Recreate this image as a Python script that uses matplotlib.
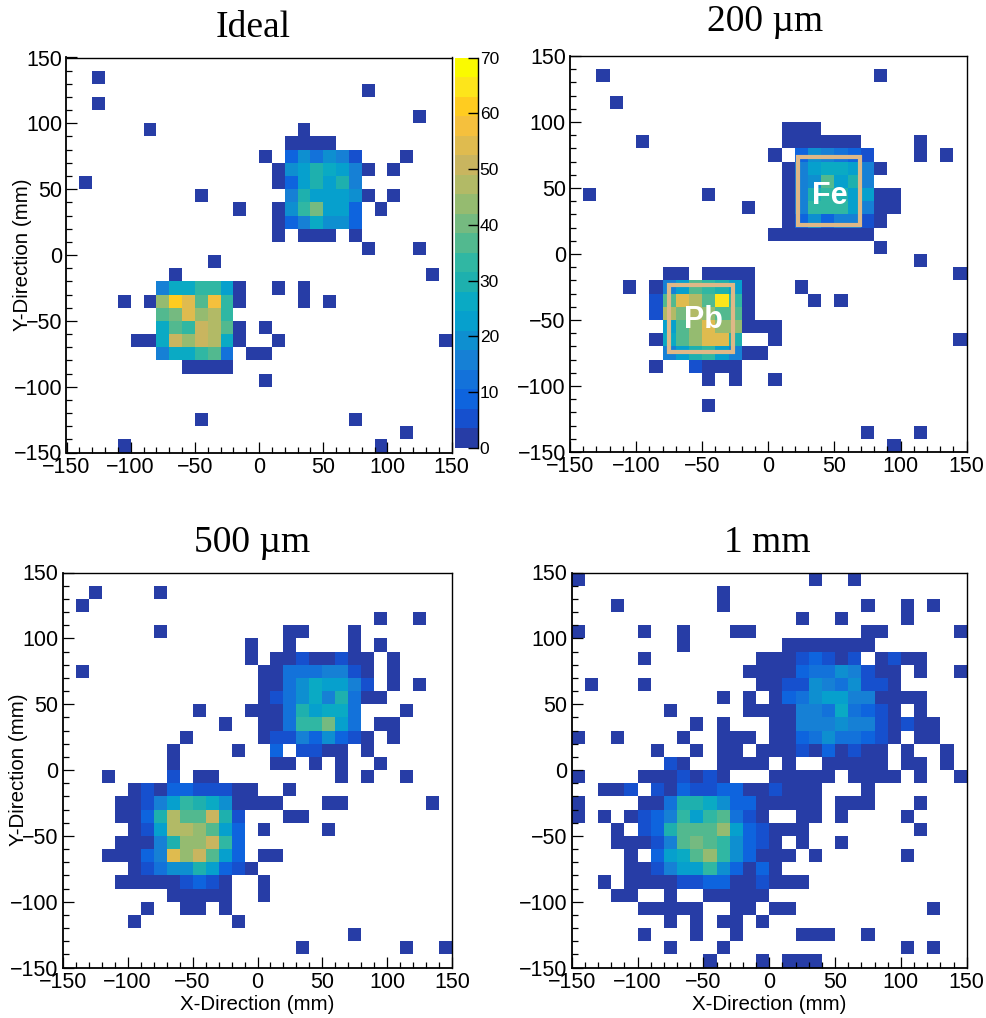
import numpy as np
import matplotlib
matplotlib.use("Agg")
import matplotlib.pyplot as plt
from matplotlib.colors import ListedColormap, BoundaryNorm
from matplotlib.patches import Rectangle
from matplotlib.ticker import MultipleLocator

plt.rcParams['font.family'] = ['Liberation Sans', 'DejaVu Sans']
plt.rcParams['axes.unicode_minus'] = True

W, H = 987, 1018

# bin edges (mm)
x_edges = np.arange(-150, 151, 10)
y_edges = np.arange(-150, 151, 10)

# counts per bin; rows run top (y=150) to bottom (y=-150), columns left to right
ideal = [
[0,0,0,0,0, 0,0,0,0,0, 0,0,0,0,0, 0,0,0,0,0, 0,0,0,0,0, 0,0,0,0,0],
[0,0,1,0,0, 0,0,0,0,0, 0,0,0,0,0, 0,0,0,0,0, 0,0,0,0,0, 0,0,0,0,0],
[0,0,0,0,0, 0,0,0,0,0, 0,0,0,0,0, 0,0,0,0,0, 0,0,0,1,0, 0,0,0,0,0],
[0,0,1,0,0, 0,0,0,0,0, 0,0,0,0,0, 0,0,0,0,0, 0,0,0,0,0, 0,0,0,0,0],
[0,0,0,0,0, 0,0,0,0,0, 0,0,0,0,0, 0,0,0,0,0, 0,0,0,0,0, 0,0,1,0,0],
[0,0,0,0,0, 0,1,0,0,0, 0,0,0,0,0, 0,0,0,1,0, 0,0,0,0,0, 0,0,0,0,0],
[0,0,0,0,0, 0,0,0,0,0, 0,0,0,0,0, 0,0,1,1,1, 1,0,0,0,0, 0,0,0,0,0],
[0,0,0,0,0, 0,0,0,0,0, 0,0,0,0,0, 1,0,9,19,12, 19,16,5,0,0, 0,1,0,0,0],
[0,0,0,0,0, 0,0,0,0,0, 0,0,0,0,0, 0,1,19,23,30, 26,23,16,1,0, 1,0,0,0,0],
[0,1,0,0,0, 0,0,0,0,0, 0,0,0,0,0, 0,1,9,23,30, 23,30,16,0,0, 0,0,0,0,0],
[0,0,0,0,0, 0,0,0,0,0, 1,0,0,0,0, 0,0,16,30,23, 23,23,19,1,0, 1,0,0,0,0],
[0,0,0,0,0, 0,0,0,0,0, 0,0,0,1,0, 0,1,19,33,40, 23,23,9,0,1, 0,0,0,0,0],
[0,0,0,0,0, 0,0,0,0,0, 0,0,0,0,0, 0,1,9,16,26, 19,19,9,0,0, 0,0,0,0,0],
[0,0,0,0,0, 0,0,0,0,0, 0,0,0,0,0, 0,1,0,1,1, 1,0,1,0,0, 0,0,0,0,0],
[0,0,0,0,0, 0,0,0,0,0, 0,0,0,0,0, 0,0,0,0,0, 0,0,0,1,0, 0,0,1,0,0],
[0,0,0,0,0, 0,0,0,0,0, 0,1,0,0,0, 0,0,0,0,0, 0,0,0,0,0, 0,0,0,0,0],
[0,0,0,0,0, 0,0,0,1,0, 0,0,0,0,0, 0,0,0,0,0, 0,0,0,0,0, 0,0,0,1,0],
[0,0,0,0,0, 0,0,16,26,26, 33,33,23,1,0, 0,1,0,1,0, 0,0,0,0,0, 0,0,0,0,0],
[0,0,0,0,1, 0,1,44,61,54, 37,58,33,1,0, 0,0,0,1,0, 1,0,0,0,0, 0,0,0,0,0],
[0,0,0,0,0, 0,0,37,40,54, 44,47,33,0,0, 0,0,0,0,0, 0,0,0,0,0, 0,0,0,0,0],
[0,0,0,0,0, 0,0,26,37,33, 51,47,37,1,0, 1,0,0,0,0, 0,0,0,0,0, 0,0,0,0,0],
[0,0,0,0,0, 1,1,26,51,44, 51,47,26,1,0, 0,1,0,0,0, 0,0,0,0,0, 0,0,0,0,1],
[0,0,0,0,0, 0,0,16,26,26, 33,37,12,0,1, 1,0,0,0,0, 0,0,0,0,0, 0,0,0,0,0],
[0,0,0,0,0, 0,0,0,0,1, 1,1,1,0,0, 0,0,0,0,0, 0,0,0,0,0, 0,0,0,0,0],
[0,0,0,0,0, 0,0,0,0,0, 0,0,0,0,0, 1,0,0,0,0, 0,0,0,0,0, 0,0,0,0,0],
[0,0,0,0,0, 0,0,0,0,0, 0,0,0,0,0, 0,0,0,0,0, 0,0,0,0,0, 0,0,0,0,0],
[0,0,0,0,0, 0,0,0,0,0, 0,0,0,0,0, 0,0,0,0,0, 0,0,0,0,0, 0,0,0,0,0],
[0,0,0,0,0, 0,0,0,0,0, 1,0,0,0,0, 0,0,0,0,0, 0,0,1,0,0, 0,0,0,0,0],
[0,0,0,0,0, 0,0,0,0,0, 0,0,0,0,0, 0,0,0,0,0, 0,0,0,0,0, 0,1,0,0,0],
[0,0,0,0,1, 0,0,0,0,0, 0,0,0,0,0, 0,0,0,0,0, 0,0,0,0,1, 0,0,0,0,0],
]

um200 = [
[0,0,0,0,0, 0,0,0,0,0, 0,0,0,0,0, 0,0,0,0,0, 0,0,0,0,0, 0,0,0,0,0],
[0,0,1,0,0, 0,0,0,0,0, 0,0,0,0,0, 0,0,0,0,0, 0,0,0,1,0, 0,0,0,0,0],
[0,0,0,0,0, 0,0,0,0,0, 0,0,0,0,0, 0,0,0,0,0, 0,0,0,0,0, 0,0,0,0,0],
[0,0,0,1,0, 0,0,0,0,0, 0,0,0,0,0, 0,0,0,0,0, 0,0,0,0,0, 0,0,0,0,0],
[0,0,0,0,0, 0,0,0,0,0, 0,0,0,0,0, 0,0,0,0,0, 0,0,0,0,0, 0,0,0,0,0],
[0,0,0,0,0, 0,0,0,0,0, 0,0,0,0,0, 0,1,1,1,0, 0,0,0,0,0, 0,0,0,0,0],
[0,0,0,0,0, 1,0,0,0,0, 0,0,0,0,0, 0,1,1,1,1, 1,1,0,0,0, 0,1,0,0,0],
[0,0,0,0,0, 0,0,0,0,0, 0,0,0,0,0, 1,0,9,19,16, 12,9,5,0,0, 0,1,0,1,0],
[0,0,0,0,0, 0,0,0,0,0, 0,0,0,0,0, 0,1,16,23,26, 26,23,16,1,0, 0,0,0,0,0],
[0,0,0,0,0, 0,0,0,0,0, 0,0,0,0,0, 0,1,16,19,37, 23,30,16,0,0, 0,0,0,0,0],
[0,1,0,0,0, 0,0,0,0,0, 1,0,0,0,0, 0,1,16,30,33, 30,23,23,1,1, 0,0,0,0,0],
[0,0,0,0,0, 0,0,0,0,0, 0,0,0,1,0, 0,1,16,33,33, 33,23,16,1,1, 0,0,0,0,0],
[0,0,0,0,0, 0,0,0,0,0, 0,0,0,0,0, 0,1,9,19,9, 16,16,5,1,0, 0,0,0,0,0],
[0,0,0,0,0, 0,0,0,0,0, 0,0,0,0,0, 1,1,1,1,1, 1,1,1,0,0, 0,0,0,0,0],
[0,0,0,0,0, 0,0,0,0,0, 0,0,0,0,0, 0,0,0,0,0, 0,0,0,1,0, 0,0,0,0,0],
[0,0,0,0,0, 0,0,0,0,0, 0,0,0,0,0, 0,0,0,0,0, 0,0,0,0,0, 0,1,0,0,0],
[0,0,0,0,0, 0,0,1,1,0, 1,1,1,1,0, 0,0,0,0,0, 0,0,0,0,0, 0,0,0,0,1],
[0,0,0,0,1, 0,1,16,23,37, 33,30,23,1,0, 0,0,1,0,0, 0,0,0,0,0, 0,0,0,0,0],
[0,0,0,0,0, 0,5,37,54,47, 37,65,33,1,0, 0,0,0,1,0, 1,0,0,0,0, 0,0,0,0,0],
[0,0,0,0,0, 0,5,47,40,47, 44,37,37,1,0, 0,0,0,0,0, 0,0,0,0,0, 0,0,0,0,0],
[0,0,0,0,0, 0,0,23,37,44, 54,44,44,1,1, 1,0,0,0,0, 0,0,0,0,0, 0,0,0,0,0],
[0,0,0,0,0, 0,1,26,37,44, 54,54,30,0,0, 1,0,0,0,0, 0,0,0,0,0, 0,0,0,0,1],
[0,0,0,0,0, 0,0,16,23,30, 33,23,16,1,1, 0,0,0,0,0, 0,0,0,0,0, 0,0,0,0,0],
[0,0,0,0,0, 0,1,0,0,5, 1,1,1,0,0, 0,0,0,0,0, 0,0,0,0,0, 0,0,0,0,0],
[0,0,0,0,0, 0,0,0,0,0, 1,0,1,0,0, 1,0,0,0,0, 0,0,0,0,0, 0,0,0,0,0],
[0,0,0,0,0, 0,0,0,0,0, 0,0,0,0,0, 0,0,0,0,0, 0,0,0,0,0, 0,0,0,0,0],
[0,0,0,0,0, 0,0,0,0,0, 1,0,0,0,0, 0,0,0,0,0, 0,0,0,0,0, 0,0,0,0,0],
[0,0,0,0,0, 0,0,0,0,0, 0,0,0,0,0, 0,0,0,0,0, 0,0,0,0,0, 0,0,0,0,0],
[0,0,0,0,0, 0,0,0,0,0, 0,0,0,0,0, 0,0,0,0,0, 0,0,1,0,0, 0,1,0,0,0],
[0,0,0,0,0, 0,0,0,0,0, 0,0,0,0,0, 0,0,0,0,0, 0,0,0,0,1, 0,0,0,0,0],
]

um500 = [
[0,0,0,0,0, 0,0,0,0,0, 0,0,0,0,0, 0,0,0,0,0, 0,0,0,0,0, 0,0,0,0,0],
[0,0,1,0,0, 0,0,1,0,0, 0,0,0,0,0, 0,0,0,0,0, 0,0,0,0,0, 0,0,0,0,0],
[0,1,0,0,0, 0,0,0,0,0, 0,0,0,0,0, 0,0,0,0,0, 0,0,0,0,0, 0,0,0,0,0],
[0,0,0,0,0, 0,0,0,0,0, 0,0,0,0,0, 0,0,0,0,0, 0,0,0,0,1, 0,0,1,0,0],
[0,0,0,0,0, 0,0,1,0,0, 0,0,0,0,0, 0,0,1,1,0, 0,0,1,0,0, 0,0,0,0,0],
[0,0,0,0,0, 0,0,0,0,0, 0,0,0,0,1, 0,0,1,0,0, 0,0,1,0,1, 0,0,0,0,0],
[0,0,0,0,0, 0,0,0,0,0, 0,0,0,0,1, 0,1,1,5,1, 1,5,1,1,0, 1,0,0,0,0],
[0,1,0,0,0, 0,0,0,0,0, 0,0,0,0,0, 1,1,12,12,12, 16,16,5,1,0, 1,0,0,0,0],
[0,0,0,0,0, 0,0,0,0,0, 0,0,0,0,0, 1,1,12,19,26, 23,23,16,5,0, 1,0,1,0,0],
[0,0,0,0,0, 0,0,0,0,0, 0,0,0,0,0, 1,5,12,19,26, 16,30,12,1,1, 0,0,0,0,0],
[0,0,0,0,0, 0,0,0,0,0, 1,0,0,0,1, 1,1,12,30,23, 26,26,12,0,0, 0,1,0,0,0],
[0,0,0,0,0, 0,0,0,0,0, 0,0,1,0,0, 1,1,12,33,33, 40,23,12,0,1, 1,0,0,0,0],
[0,0,0,0,0, 0,0,0,0,1, 0,0,0,0,0, 1,5,5,16,9, 19,9,5,1,0, 1,0,0,0,0],
[0,0,0,0,0, 0,0,0,1,0, 0,0,0,1,0, 0,9,0,5,5, 1,1,0,1,0, 0,0,0,0,0],
[0,0,0,0,0, 0,0,0,1,0, 0,0,0,0,0, 0,1,1,0,1, 0,1,0,0,1, 0,0,0,0,0],
[0,0,0,1,0, 0,0,0,5,0, 1,1,0,0,0, 0,0,0,0,0, 0,1,0,1,0, 0,1,0,0,0],
[0,0,0,0,0, 1,5,1,9,9, 5,5,5,1,1, 0,0,1,0,0, 0,0,0,0,0, 0,0,0,0,0],
[0,0,0,0,1, 1,5,16,23,33, 30,26,19,1,1, 1,1,0,0,0, 1,1,0,0,0, 0,0,0,1,0],
[0,0,0,0,1, 1,9,30,47,37, 37,51,30,5,0, 0,0,1,1,0, 0,0,0,0,0, 0,0,0,0,0],
[0,0,0,0,0, 1,5,23,47,47, 44,37,23,9,0, 1,0,0,0,0, 1,0,0,0,0, 0,0,0,0,0],
[0,0,0,0,1, 1,1,16,30,44, 44,51,33,9,0, 0,0,0,0,0, 0,0,0,0,0, 0,0,0,0,0],
[0,0,0,1,1, 1,9,16,54,44, 51,37,23,9,0, 1,1,0,0,0, 0,0,0,0,0, 0,0,0,0,0],
[0,0,0,0,0, 1,5,12,19,19, 30,23,9,5,1, 0,0,0,0,0, 0,0,0,0,0, 0,0,0,0,0],
[0,0,0,0,1, 1,1,1,1,5, 9,5,1,0,0, 1,0,0,0,0, 0,0,0,0,0, 0,0,0,0,0],
[0,0,0,0,0, 0,0,0,1,1, 1,1,1,0,0, 1,0,0,0,0, 0,0,0,0,0, 0,0,0,0,0],
[0,0,0,0,0, 0,1,0,0,1, 1,0,1,0,0, 0,0,0,0,0, 0,0,0,0,0, 0,0,0,0,0],
[0,0,0,0,0, 1,0,0,0,0, 0,0,0,1,0, 0,0,0,0,0, 0,0,0,0,0, 0,0,0,0,0],
[0,0,0,0,0, 0,0,0,0,0, 0,0,0,0,0, 0,0,0,0,0, 0,0,1,0,0, 0,0,0,0,0],
[0,0,0,0,0, 0,0,0,0,0, 0,0,0,0,0, 0,0,0,1,0, 0,0,0,0,0, 0,1,0,0,1],
[0,0,0,0,0, 0,0,0,0,0, 0,0,0,0,0, 0,0,0,0,0, 0,0,0,0,0, 0,0,0,0,0],
]

mm1 = [
[1,0,0,0,0, 0,0,0,0,0, 0,0,0,0,0, 0,0,0,1,0, 0,1,0,0,0, 0,0,0,0,0],
[0,0,0,0,0, 0,0,0,0,0, 0,1,0,0,0, 0,0,0,0,0, 0,0,0,0,0, 0,0,0,0,0],
[0,0,0,1,0, 0,0,0,0,0, 0,1,0,0,0, 0,0,0,0,0, 0,0,1,0,0, 1,0,1,0,0],
[0,0,0,0,0, 0,0,0,0,0, 0,0,0,0,0, 0,0,1,0,0, 1,0,0,0,0, 1,0,0,0,0],
[1,0,0,0,0, 1,0,0,1,0, 0,0,1,1,0, 0,0,0,0,0, 0,0,1,1,0, 0,0,0,0,1],
[0,0,0,0,0, 0,0,0,1,0, 0,0,0,0,0, 0,1,1,1,1, 1,1,1,0,0, 0,0,0,0,0],
[0,0,0,0,0, 1,0,0,0,0, 0,0,0,0,1, 1,1,5,9,5, 1,5,0,1,5, 1,1,0,0,0],
[0,0,0,0,0, 0,0,0,0,0, 0,0,0,1,1, 1,1,9,12,12, 19,16,5,1,1, 0,1,0,0,1],
[0,1,0,0,0, 1,0,0,0,0, 0,0,0,0,1, 1,5,5,19,16, 12,19,5,5,1, 0,0,0,0,0],
[0,0,0,0,0, 0,0,0,0,0, 0,1,0,1,0, 1,9,12,19,23, 23,16,16,1,1, 1,1,0,0,0],
[0,0,0,0,0, 0,0,1,0,0, 0,0,0,1,1, 1,1,16,16,12, 26,12,9,5,1, 0,1,0,0,0],
[0,0,0,0,0, 0,0,0,0,1, 0,1,0,0,0, 1,1,16,16,16, 19,16,16,5,1, 5,1,1,0,0],
[1,0,0,1,0, 0,0,0,1,0, 0,1,1,1,0, 1,1,9,12,19, 12,12,9,5,1, 0,1,1,0,0],
[0,0,0,0,0, 0,1,0,0,1, 0,1,1,0,1, 1,1,5,1,9, 1,5,1,1,0, 1,0,0,1,0],
[0,0,0,0,0, 0,0,5,1,0, 0,1,1,1,1, 0,1,0,0,1, 1,1,1,1,0, 1,1,0,1,0],
[1,0,0,0,0, 1,1,1,5,1, 5,1,0,0,0, 1,1,1,1,1, 0,1,1,1,1, 0,1,0,0,1],
[0,0,1,1,5, 0,5,1,9,5, 5,9,9,1,1, 5,1,1,1,0, 0,0,1,0,0, 0,0,0,0,0],
[1,0,0,0,0, 1,1,12,30,30, 26,19,9,9,1, 1,1,1,1,0, 1,1,1,0,0, 0,1,0,0,0],
[1,0,1,0,1, 5,9,16,33,23, 33,37,12,5,1, 0,0,1,1,0, 1,0,0,0,0, 1,0,0,0,0],
[0,0,0,1,0, 5,9,30,37,37, 37,44,23,9,5, 1,1,1,0,0, 0,0,0,0,0, 0,1,0,0,0],
[0,0,0,1,1, 1,5,16,37,40, 37,33,19,9,5, 1,0,1,0,0, 1,0,0,0,0, 0,0,0,0,0],
[0,0,0,0,1, 0,9,23,26,37, 44,33,19,9,1, 1,1,0,1,0, 0,0,0,0,0, 1,0,0,0,0],
[0,0,0,0,1, 1,5,16,23,23, 33,19,9,1,9, 1,0,0,0,0, 0,0,0,0,0, 0,0,0,0,0],
[0,0,1,0,1, 1,1,1,5,5, 9,9,1,1,5, 1,1,1,0,0, 0,0,0,0,0, 0,0,0,0,0],
[0,0,0,1,1, 0,0,1,0,0, 1,1,1,1,1, 0,0,0,0,0, 0,0,0,0,0, 0,0,0,0,0],
[0,0,0,0,0, 1,1,1,1,1, 0,0,1,1,0, 1,1,0,0,0, 0,0,0,0,0, 0,0,1,0,0],
[0,0,0,0,0, 0,0,1,0,1, 0,1,1,0,1, 0,0,0,0,0, 0,0,0,0,0, 0,0,0,0,0],
[0,0,0,0,0, 1,0,0,0,1, 0,0,1,0,0, 0,0,1,1,1, 0,0,1,0,0, 0,0,0,0,0],
[0,0,0,0,0, 0,0,1,0,0, 0,1,0,0,0, 0,0,0,0,0, 0,0,0,0,0, 1,0,1,0,0],
[0,0,0,0,0, 0,0,0,0,0, 1,0,0,0,1, 0,1,1,1,0, 0,0,0,0,0, 0,0,0,0,0],
]

titles = ["Ideal", "200 \u00b5m", "500 \u00b5m", "1 mm"]
xlabel_text = "X-Direction (mm)"
ylabel_text = "Y-Direction (mm)"
z_ticks = [0, 10, 20, 30, 40, 50, 60, 70]
band_width = 3.5
band_colors = ['#273da6', '#1650ce', '#0e64de', '#1372da', '#1680d5',
               '#0e8fd0', '#06a0cd', '#0aaac4', '#1eb0ae', '#30b7a3',
               '#52b98f', '#75ba80', '#95bb70', '#b2ba66', '#c9b55f',
               '#dfbb4f', '#f5c03d', '#ffcc20', '#fde51b', '#fafa00']

cmap = ListedColormap(band_colors)
levels = np.arange(0, 70 + band_width, band_width)
norm = BoundaryNorm(levels, cmap.N)

fig = plt.figure(figsize=(W / 100, H / 100), dpi=100, facecolor='white')


def px_axes(left, top, right, bottom):
    return fig.add_axes([left / W, 1 - bottom / H, (right - left) / W, (bottom - top) / H])


panels = [
    (ideal, (66.5, 57.5, 451.7, 452.5), 20, False, titles[0], (253, 28)),
    (um200, (570, 56, 966.7, 452), None, False, titles[1], (765, 22)),
    (um500, (62.7, 572.5, 452.3, 967.5), 16, True, titles[2], (252, 543)),
    (mm1, (571.7, 572.5, 966.7, 967.5), None, True, titles[3], (767, 543)),
]

first_mesh = None
for counts, box, ylab_x, has_xlab, title, tpos in panels:
    ax = px_axes(*box)
    z = np.ma.masked_equal(np.flipud(np.array(counts, dtype=float)), 0)
    mesh = ax.pcolormesh(x_edges, y_edges, z, cmap=cmap, norm=norm, antialiased=False, linewidth=0)
    if first_mesh is None:
        first_mesh = mesh
    ax.set_xlim(-150, 150)
    ax.set_ylim(-150, 150)
    ax.xaxis.set_major_locator(MultipleLocator(50))
    ax.yaxis.set_major_locator(MultipleLocator(50))
    ax.xaxis.set_minor_locator(MultipleLocator(10))
    ax.yaxis.set_minor_locator(MultipleLocator(10))
    ax.tick_params(which='major', direction='in', length=8.2, width=0.9, labelsize=15.5,
                   top=False, right=False, pad=3)
    ax.tick_params(which='minor', direction='in', length=4.2, width=0.9, top=False, right=False)
    for s in ax.spines.values():
        s.set_linewidth(1.0)
    for s in ('left', 'bottom'):
        ax.spines[s].set_linewidth(1.3)
    fig.text(tpos[0] / W, 1 - tpos[1] / H, title, ha='center', va='center', fontsize=27,
             family=['Liberation Serif', 'DejaVu Serif'], color='black')
    cy = 1 - (box[1] + box[3]) / 2 / H
    if ylab_x is not None:
        fig.text((ylab_x + 3) / W, cy, ylabel_text, rotation=90, ha='center', va='center', fontsize=14.8)
    if has_xlab:
        fig.text((box[0] + box[2]) / 2 / W, 1 - 1004 / H, xlabel_text, ha='center', va='center', fontsize=14.8)
    if counts is um200:
        ax.add_patch(Rectangle((22.5, 22), 47, 51.5, fill=False, ec='#deb887', lw=3, zorder=5))
        ax.add_patch(Rectangle((-75.5, -74.5), 48.7, 50.7, fill=False, ec='#deb887', lw=3, zorder=5))
        ax.text(46.5, 44, "Fe", color='white', fontsize=22, fontweight='bold', ha='center', va='center', zorder=6)
        ax.text(-49, -50, "Pb", color='white', fontsize=22, fontweight='bold', ha='center', va='center', zorder=6)

cax = px_axes(455, 57.5, 477.7, 448)
cb = fig.colorbar(first_mesh, cax=cax, ticks=z_ticks, spacing='proportional')
cb.outline.set_visible(False)
cax.yaxis.set_ticks_position('right')
cax.tick_params(which='major', direction='in', length=7.5, width=1.0, labelsize=12.5, pad=1.5)
cax.tick_params(which='minor', length=0)
cax.plot([1, 1], [0, 1], transform=cax.transAxes, color='black', lw=1.0, clip_on=False)

fig.savefig('out.png', dpi=100, facecolor='white')
